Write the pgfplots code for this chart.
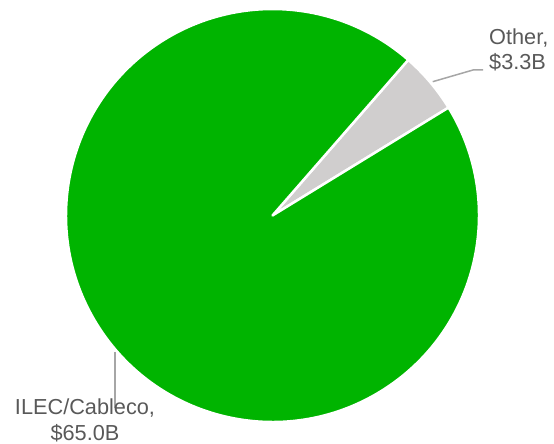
\documentclass[border=0pt]{standalone}
\usepackage{pgfplots}
\usepackage{pgfplotstable}
\pgfplotsset{compat=1.18}
\usepackage{fontspec}
\setmainfont{Liberation Sans}
\definecolor{pieGreen}{RGB}{0,180,0}
\definecolor{pieGray}{RGB}{208,206,206}
\definecolor{txt}{RGB}{89,89,89}
\definecolor{lead}{RGB}{166,166,166}
\pgfplotstableread{
label value
Other 3.3
ILEC 65.0
}\piedata
\begin{document}
\begin{tikzpicture}
\pgfplotstablegetelem{0}{value}\of\piedata \let\vOther\pgfplotsretval
\pgfplotstablegetelem{1}{value}\of\piedata \let\vILEC\pgfplotsretval
\pgfmathsetmacro\tot{\vOther+\vILEC}
\pgfmathsetmacro\aStart{48.9}
\pgfmathsetmacro\aMid{\aStart-360*\vOther/\tot}
\pgfmathsetmacro\aEnd{\aStart-360}
\begin{axis}[hide axis, scale only axis, width=554bp, height=444bp,
  xmin=0, xmax=554, ymin=0, ymax=444, clip=false, anchor=south west, at={(0,0)}]
\fill[pieGray, draw=white, line width=2.5bp, line join=round] (axis cs:272.5,228.5) -- ++(\aStart:206.5bp) arc[start angle=\aStart, end angle=\aMid, radius=206.5bp] -- cycle;
\fill[pieGreen, draw=white, line width=2.5bp, line join=round] (axis cs:272.5,228.5) -- ++(\aMid:206.5bp) arc[start angle=\aMid, end angle=\aEnd, radius=206.5bp] -- cycle;
\draw[lead, line width=1.5bp] (axis cs:432.7,362.3) -- (axis cs:473,374) -- (axis cs:483,374);
\draw[lead, line width=1.5bp] (axis cs:115,92) -- (axis cs:115,36);
\node[anchor=base west, text=txt, inner sep=0pt, font=\fontsize{21.8}{25}\selectfont] at (axis cs:489,399) {Other,};
\node[anchor=base west, text=txt, inner sep=0pt, font=\fontsize{21.8}{25}\selectfont] at (axis cs:489,374) {\$3.3B};
\node[anchor=base, text=txt, inner sep=0pt, font=\fontsize{21.8}{25}\selectfont] at (axis cs:85,30) {ILEC/Cableco,};
\node[anchor=base, text=txt, inner sep=0pt, font=\fontsize{21.8}{25}\selectfont] at (axis cs:85,4) {\$65.0B};
\end{axis}
\pgfresetboundingbox
\path (0,0) rectangle (554bp,444bp);
\end{tikzpicture}
\end{document}
